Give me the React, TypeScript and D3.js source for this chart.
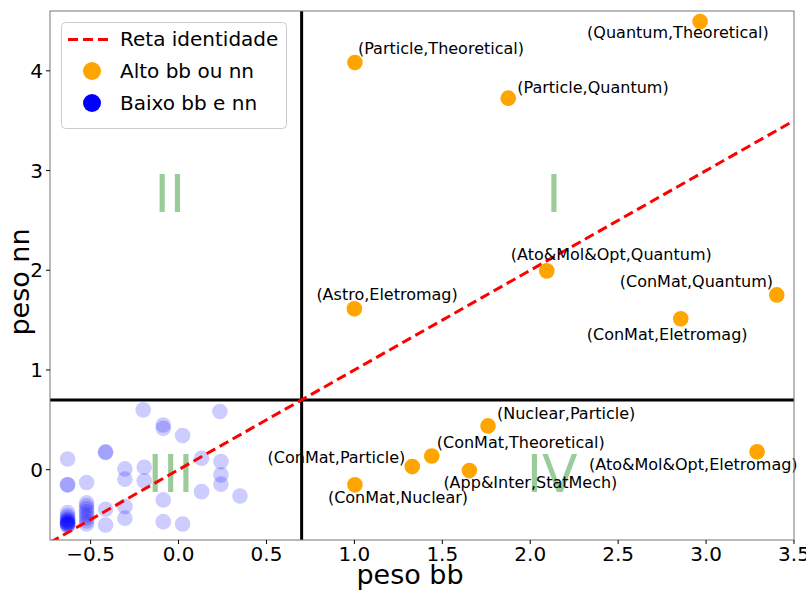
import React from "react";
import * as d3 from "d3";

// ---- data ----
const highLabels = [
  "(Quantum,Theoretical)",
  "(Particle,Theoretical)",
  "(Particle,Quantum)",
  "(Ato&Mol&Opt,Quantum)",
  "(ConMat,Quantum)",
  "(ConMat,Eletromag)",
  "(Astro,Eletromag)",
  "(Nuclear,Particle)",
  "(ConMat,Theoretical)",
  "(ConMat,Particle)",
  "(App&Inter,StatMech)",
  "(ConMat,Nuclear)",
  "(Ato&Mol&Opt,Eletromag)",
];
const highBB = [2.966, 1.003, 1.875, 2.094, 3.402, 2.856, 1.0, 1.76, 1.44, 1.329, 1.654, 1.003, 3.29];
const highNN = [4.494, 4.083, 3.726, 1.994, 1.753, 1.513, 1.613, 0.439, 0.138, 0.031, -0.009, -0.152, 0.179];

const lowBB = [
  -0.201, 0.235, -0.087, -0.087, 0.023, -0.415, -0.415, -0.631, 0.131, 0.241,
  -0.305, -0.195, -0.523, -0.631, -0.631, -0.305, -0.195, 0.241, 0.241, 0.131,
  0.349, -0.087, -0.415, -0.305, -0.305, -0.415, -0.087, 0.023,
  -0.523, -0.523, -0.523, -0.523, -0.523, -0.523, -0.523, -0.523,
  -0.631, -0.631, -0.631, -0.631, -0.631, -0.631, -0.631, -0.631, -0.631, -0.631, -0.631, -0.631,
];
const lowNN = [
  0.6, 0.583, 0.449, 0.416, 0.342, 0.176, 0.176, 0.108, 0.115, 0.081,
  0.008, 0.025, -0.129, -0.152, -0.152, -0.095, -0.112, -0.052, -0.145, -0.22,
  -0.263, -0.303, -0.396, -0.37, -0.486, -0.554, -0.521, -0.544,
  -0.333, -0.363, -0.393, -0.423, -0.453, -0.483, -0.514, -0.544,
  -0.43, -0.46, -0.48, -0.5, -0.51, -0.52, -0.53, -0.535, -0.54, -0.55, -0.555, -0.565,
];

const xTicks = [-0.5, 0.0, 0.5, 1.0, 1.5, 2.0, 2.5, 3.0, 3.5];
const yTicks = [0, 1, 2, 3, 4];
const threshold = 0.7;
const quadrants = ["I", "II", "III", "IV"];
const quadBB = [2.135, -0.05, -0.045, 2.125];
const quadNN = [2.589, 2.589, -0.22, -0.22];
const legendLabels = ["Reta identidade", "Alto bb ou nn", "Baixo bb e nn"];

// label layout (pixel offsets from point to text anchor)
const labelDX = [-113, 3, 9, -36, -157, -94, -38, 9, 5, -7, -26, -27, -168];
const labelDY = [16, -9, -5, -11, -8, 21, -9, -7, -8, -4, 17, 18, 18];
const labelAnchor = ["start", "start", "start", "start", "start", "start", "start", "start", "start", "end", "start", "start", "start"];

const W = 806, H = 590;
const L = 50, R = 794, T = 11, B = 540;
const FONT = "DejaVu Sans, Verdana, sans-serif";

export default function App() {
  const x = d3.scaleLinear().domain([-0.731, 3.5]).range([L, R]);
  const y = d3.scaleLinear().domain([-0.705, 4.6]).range([B, T]);
  const fmt = d3.format(".1f");
  const lineStart = -0.731;
  const lineEnd = 3.5;
  const line = d3.line<number>().x((d) => x(d)).y((d) => y(d));

  return (
    <svg width={W} height={H} style={{ position: "absolute", left: 0, top: 0, background: "#fff" }} fontFamily={FONT}>
      <defs>
        <clipPath id="plotclip">
          <rect x={L} y={T} width={R - L} height={B - T} />
        </clipPath>
      </defs>
      <rect x={0} y={0} width={W} height={H} fill="#fff" />

      <g clipPath="url(#plotclip)">
        {quadrants.map((q, i) => (
          <text key={q} x={x(quadBB[i])} y={y(quadNN[i])} textAnchor="middle" fontSize={52} fill="green" fillOpacity={0.4}>
            {q}
          </text>
        ))}
        <line x1={x(threshold)} x2={x(threshold)} y1={T} y2={B} stroke="#000" strokeWidth={3} />
        <line x1={L} x2={R} y1={y(threshold)} y2={y(threshold)} stroke="#000" strokeWidth={3} />
        {lowBB.map((v, i) => (
          <circle key={"l" + i} cx={x(v)} cy={y(lowNN[i])} r={7.8} fill="blue" fillOpacity={0.2} />
        ))}
        <path d={line([lineStart, lineEnd]) || ""} stroke="red" strokeWidth={3} strokeDasharray="10,5" fill="none" />
        {highBB.map((v, i) => (
          <circle key={"h" + i} cx={x(v)} cy={y(highNN[i])} r={7.8} fill="orange" />
        ))}
      </g>

      {highLabels.map((t, i) => (
        <text
          key={t}
          x={x(highBB[i]) + labelDX[i]}
          y={y(highNN[i]) + labelDY[i]}
          textAnchor={labelAnchor[i] as any}
          fontSize={16}
          fill="#000"
        >
          {t}
        </text>
      ))}

      <rect x={L} y={T} width={R - L} height={B - T} fill="none" stroke="#777" strokeWidth={1} />

      {xTicks.map((t) => (
        <g key={"x" + t}>
          <line x1={x(t)} x2={x(t)} y1={B} y2={B + 4} stroke="#000" strokeWidth={1} />
          <text x={x(t)} y={B + 21} textAnchor="middle" fontSize={20}>
            {t < 0 ? "\u2212" + fmt(-t) : fmt(t)}
          </text>
        </g>
      ))}
      {yTicks.map((t) => (
        <g key={"y" + t}>
          <line x1={L - 4} x2={L} y1={y(t)} y2={y(t)} stroke="#000" strokeWidth={1} />
          <text x={L - 7} y={y(t) + 7} textAnchor="end" fontSize={20}>
            {t}
          </text>
        </g>
      ))}
      <text x={410} y={584} textAnchor="middle" fontSize={27}>peso bb</text>
      <text transform={`translate(29,282) rotate(-90)`} textAnchor="middle" fontSize={27}>peso nn</text>

      <g>
        <rect x={61.5} y={22.5} width={225} height={106} rx={4} fill="#fff" fillOpacity={0.8} stroke="#ccc" />
        <line x1={68} x2={108} y1={39.5} y2={39.5} stroke="red" strokeWidth={3} strokeDasharray="10,5" />
        <circle cx={92} cy={71} r={9} fill="orange" />
        <circle cx={92} cy={103} r={9} fill="blue" />
        {legendLabels.map((t, i) => (
          <text key={t} x={120} y={46 + i * 32} fontSize={20}>
            {t}
          </text>
        ))}
      </g>
    </svg>
  );
}
